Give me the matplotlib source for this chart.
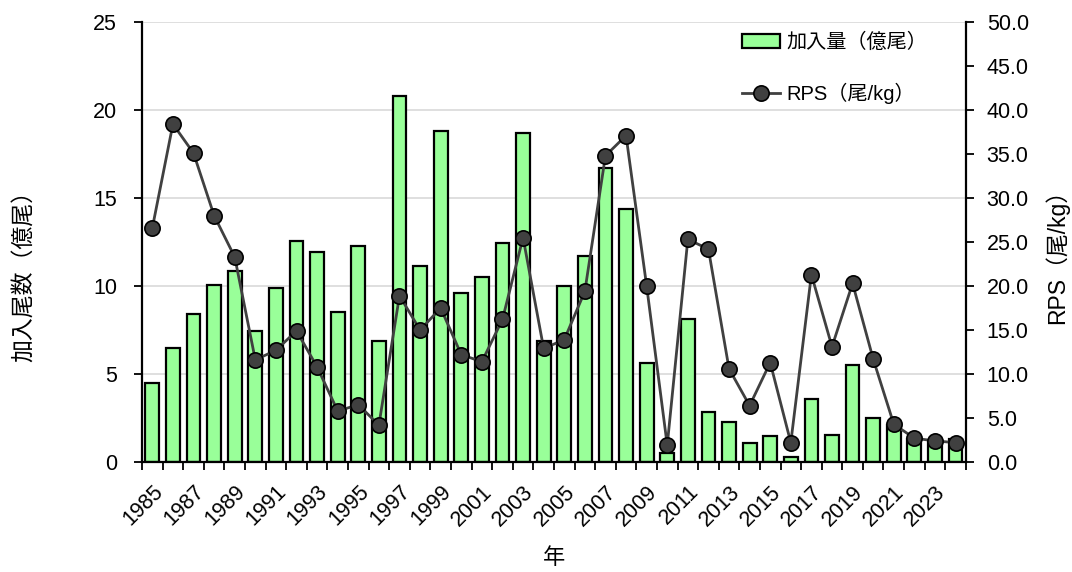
import numpy as np
import matplotlib
matplotlib.use("Agg")
import matplotlib.pyplot as plt
from matplotlib.ticker import FormatStrFormatter

plt.rcParams['font.family'] = ['Liberation Sans', 'Noto Sans CJK JP']

# データ
years = list(range(1985, 2025))
recruits = [4.5, 6.5, 8.4, 10.05, 10.85, 7.45, 9.9, 12.55, 11.95, 8.5,
            12.3, 6.85, 20.8, 11.15, 18.8, 9.6, 10.5, 12.45, 18.7, 6.9,
            10.0, 11.7, 16.7, 14.4, 5.6, 0.5, 8.1, 2.85, 2.25, 1.1,
            1.45, 0.3, 3.6, 1.55, 5.5, 2.5, 2.1, 1.3, 1.2, 1.3]
rps = [26.6, 38.4, 35.1, 28.0, 23.3, 11.6, 12.7, 14.9, 10.8, 5.8,
       6.5, 4.2, 18.9, 15.0, 17.5, 12.2, 11.4, 16.2, 25.5, 12.9,
       13.9, 19.4, 34.8, 37.1, 20.0, 1.9, 25.3, 24.2, 10.6, 6.4,
       11.3, 2.2, 21.3, 13.1, 20.3, 11.7, 4.3, 2.7, 2.4, 2.2]

x = np.arange(len(years))

fig, ax1 = plt.subplots(figsize=(10.72, 5.72), dpi=100)
fig.subplots_adjust(left=0.1325, right=0.901, bottom=0.1923, top=0.9615)

bars = ax1.bar(x, recruits, width=0.67, color='#99FF99', edgecolor='black',
               linewidth=1.6, label='加入量（億尾）', zorder=2)
ax1.set_ylim(0, 25)
ax1.set_yticks(np.arange(0, 26, 5))
ax1.set_xlim(-0.5, len(years) - 0.5)
ax1.grid(axis='y', color='#d9d9d9', linewidth=1.2, zorder=0)
ax1.set_axisbelow(True)

# x 軸: 目盛りは区切り、ラベルは隔年
ax1.set_xticks(x[::2])
ax1.set_xticklabels([str(y) for y in years[::2]], rotation=45, ha='right',
                    rotation_mode='anchor', fontsize=15.5)
ax1.set_xticks(np.arange(-0.5, len(years), 1), minor=True)
ax1.tick_params(axis='x', which='major', length=0, pad=14)
ax1.tick_params(axis='x', which='minor', length=6, width=1.3, direction='out')
ax1.tick_params(axis='y', labelsize=15.5, length=6, width=1.3, pad=12)

ax1.set_ylabel('加入尾数（億尾）', fontsize=16.5)
ax1.yaxis.set_label_coords(-0.129, 0.436)
ax1.set_xlabel('年', fontsize=16)
ax1.xaxis.set_label_coords(0.5, -0.195)

for s in ['top', 'right']:
    ax1.spines[s].set_visible(False)
ax1.spines['left'].set_linewidth(1.6)
ax1.spines['bottom'].set_linewidth(1.6)

ax2 = ax1.twinx()
line, = ax2.plot(x, rps, color='#404040', linewidth=2, marker='o',
                 markersize=11, markerfacecolor='#404040',
                 markeredgecolor='black', markeredgewidth=1.2,
                 label='RPS（尾/kg）', zorder=3)
ax2.set_ylim(0, 50)
ax2.set_yticks(np.arange(0, 51, 5))
ax2.yaxis.set_major_formatter(FormatStrFormatter('%.1f'))
ax2.tick_params(axis='y', labelsize=15.5, length=6, width=1.3, pad=9)
ax2.set_ylabel('RPS（尾/kg）', fontsize=16.5)
ax2.yaxis.set_label_coords(1.096, 0.48)
for s in ['top', 'left', 'bottom']:
    ax2.spines[s].set_visible(False)
ax2.spines['right'].set_linewidth(1.6)

ax2.legend([bars, line], ['加入量（億尾）', 'RPS（尾/kg）'],
           loc='upper left', bbox_to_anchor=(0.728, 0.975), frameon=False,
           borderaxespad=0, borderpad=0,
           fontsize=14.5, handlelength=1.9, handletextpad=0.3,
           labelspacing=1.5)

fig.savefig('out.png', dpi=100)
